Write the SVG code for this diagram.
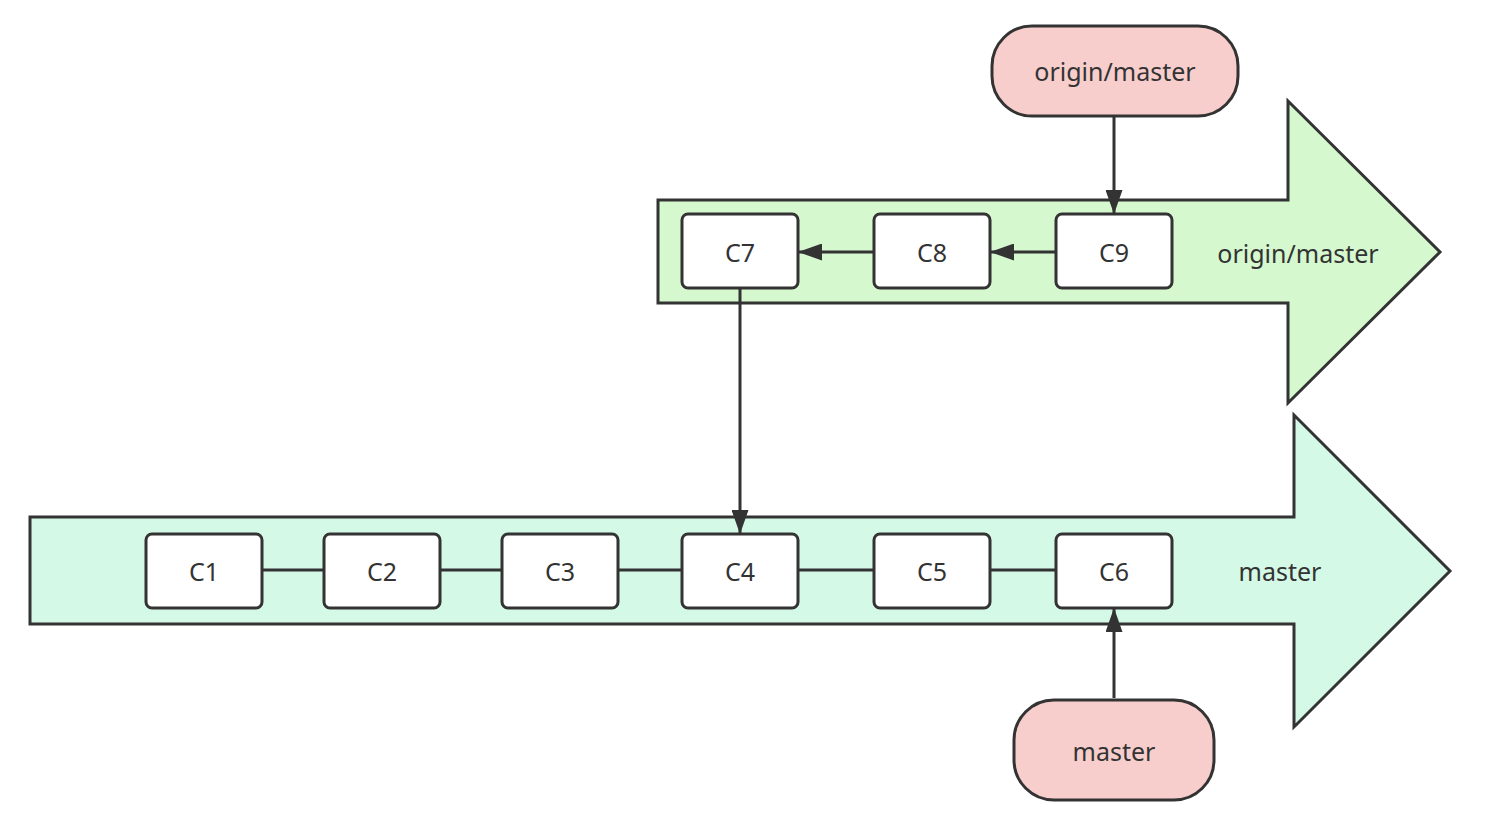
<svg xmlns="http://www.w3.org/2000/svg" width="1494" height="822" viewBox="0 0 1494 822">
<style>
.lane{stroke:#333;stroke-width:3;stroke-linejoin:miter}
.c{fill:#fff;stroke:#333;stroke-width:3}
.pill{fill:#f8cecc;stroke:#333;stroke-width:3}
.t{font-family:"Noto Sans","Liberation Sans",sans-serif;font-size:25px;fill:#333;text-anchor:middle;dominant-baseline:central}
.e{stroke:#333;stroke-width:3;fill:none}
</style>
<defs>
<marker id="ah" viewBox="0 0 24 17" refX="23" refY="8.5" markerWidth="24" markerHeight="17" markerUnits="userSpaceOnUse" orient="auto">
<path d="M0,0 L24,8.5 L0,17 Z" fill="#333"/>
</marker>
</defs>
<rect width="1494" height="822" fill="#fff"/>
<g id="lane-origin">
<path class="lane" fill="#d5f8cf" d="M658,200 L1288,200 L1288,101 L1440,252 L1288,403 L1288,303 L658,303 Z"/>
<text class="t" x="1298" y="253">origin/master</text>
</g>
<g id="lane-master">
<path class="lane" fill="#d4f9e6" d="M30,517 L1294,517 L1294,415 L1450,571 L1294,727 L1294,624 L30,624 Z"/>
<text class="t" x="1280" y="571">master</text>
</g>
<g id="connectors">
<line class="e" x1="1114" y1="116" x2="1114" y2="213" marker-end="url(#ah)"/>
<line class="e" x1="1056" y1="252" x2="991" y2="252" marker-end="url(#ah)"/>
<line class="e" x1="874" y1="252" x2="799" y2="252" marker-end="url(#ah)"/>
<line class="e" x1="740" y1="288" x2="740" y2="533" marker-end="url(#ah)"/>
<line class="e" x1="1114" y1="698" x2="1114" y2="609" marker-end="url(#ah)"/>
<line class="e" x1="262" y1="570" x2="323" y2="570"/>
<line class="e" x1="440" y1="570" x2="502" y2="570"/>
<line class="e" x1="618" y1="570" x2="682" y2="570"/>
<line class="e" x1="798" y1="570" x2="874" y2="570"/>
<line class="e" x1="990" y1="570" x2="1056" y2="570"/>
</g>
<g id="C7"><rect class="c" x="682" y="214" width="116" height="74" rx="6"/><text class="t" x="740" y="252">C7</text></g>
<g id="C8"><rect class="c" x="874" y="214" width="116" height="74" rx="6"/><text class="t" x="932" y="252">C8</text></g>
<g id="C9"><rect class="c" x="1056" y="214" width="116" height="74" rx="6"/><text class="t" x="1114" y="252">C9</text></g>
<g id="C1"><rect class="c" x="146" y="534" width="116" height="74" rx="6"/><text class="t" x="204" y="571">C1</text></g>
<g id="C2"><rect class="c" x="324" y="534" width="116" height="74" rx="6"/><text class="t" x="382" y="571">C2</text></g>
<g id="C3"><rect class="c" x="502" y="534" width="116" height="74" rx="6"/><text class="t" x="560" y="571">C3</text></g>
<g id="C4"><rect class="c" x="682" y="534" width="116" height="74" rx="6"/><text class="t" x="740" y="571">C4</text></g>
<g id="C5"><rect class="c" x="874" y="534" width="116" height="74" rx="6"/><text class="t" x="932" y="571">C5</text></g>
<g id="C6"><rect class="c" x="1056" y="534" width="116" height="74" rx="6"/><text class="t" x="1114" y="571">C6</text></g>
<g id="ref-origin"><rect class="pill" x="992" y="26" width="246" height="90" rx="40"/><text class="t" x="1115" y="71">origin/master</text></g>
<g id="ref-master"><rect class="pill" x="1014" y="700" width="200" height="100" rx="40"/><text class="t" x="1114" y="751">master</text></g>
</svg>
